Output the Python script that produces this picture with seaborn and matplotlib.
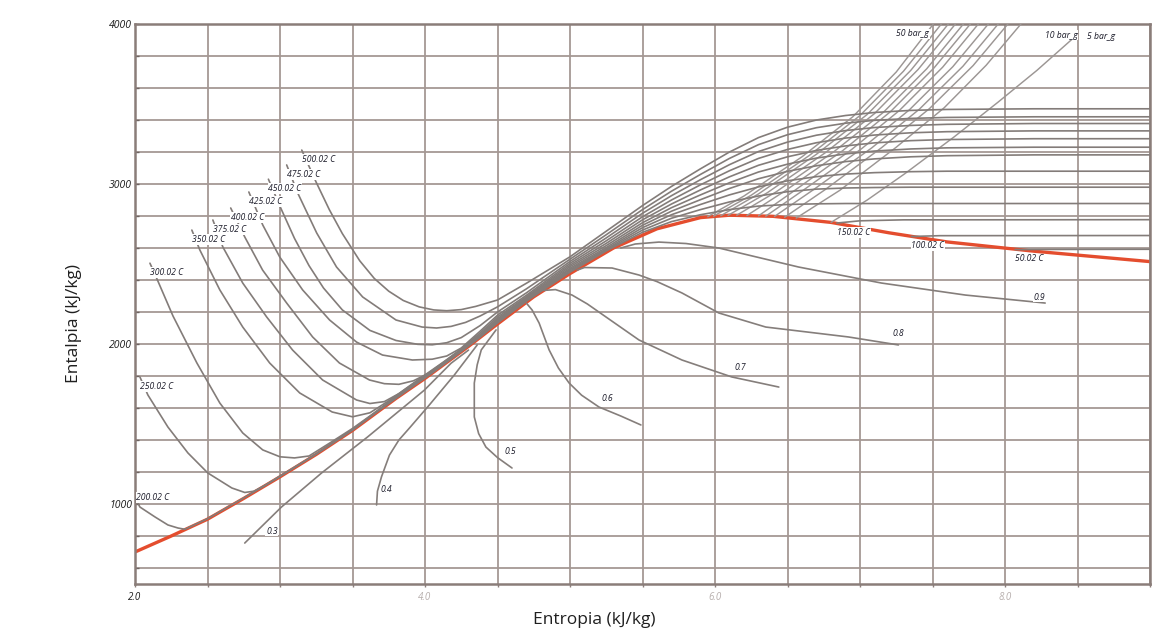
import numpy as np
import pandas as pd
import matplotlib
matplotlib.use("Agg")
import matplotlib.pyplot as plt
import seaborn as sns

# ---------------- data (s in kJ/kg.K, h in kJ/kg) ----------------
sat_s = [2.0, 2.25, 2.5, 2.75, 3.0, 3.25, 3.5, 3.8, 4.0, 4.3, 4.5, 4.75, 5.0, 5.3, 5.6, 5.9, 6.1, 6.4, 6.8, 7.2, 7.6, 8.2, 9.0]
sat_h = [700, 800, 905, 1035, 1170, 1310, 1460, 1660, 1785, 1985, 2125, 2295, 2440, 2600, 2720, 2790, 2805, 2798, 2760, 2695, 2638, 2580, 2515]

iso_labels = ["500.02 C", "475.02 C", "450.02 C", "425.02 C", "400.02 C", "375.02 C",
              "350.02 C", "300.02 C", "250.02 C", "200.02 C", "150.02 C", "100.02 C", "50.02 C"]

# shared entropy stations of the superheated part of the isotherm bundle
bundle_s = [4.5, 4.7, 5.0, 5.25, 5.5, 5.7, 5.9, 6.1, 6.3, 6.5, 6.7, 6.9, 7.1, 7.35, 7.6, 8.2, 9.0]

t500_s = [3.15, 3.25, 3.34, 3.43, 3.55, 3.65, 3.75, 3.85, 3.96, 4.06, 4.15, 4.25, 4.35] + bundle_s
t500_h = [3212, 3010, 2840, 2690, 2520, 2410, 2330, 2272, 2232, 2213, 2208, 2215, 2235,
          2275, 2380, 2545, 2705, 2865, 2985, 3095, 3200, 3290, 3355, 3400, 3428, 3447, 3460, 3466, 3470, 3470]
t475_s = [3.046, 3.122, 3.253, 3.39, 3.57, 3.80, 3.98, 4.08, 4.18, 4.28, 4.38] + bundle_s
t475_h = [3119, 2944, 2694, 2481, 2294, 2150, 2106, 2100, 2110, 2135, 2175,
          2232, 2345, 2530, 2683, 2840, 2955, 3060, 3160, 3246, 3308, 3352, 3380, 3398, 3410, 3416, 3420, 3420]
t450_s = [2.92, 3.0, 3.1, 3.2, 3.3, 3.43, 3.62, 3.8, 3.95, 4.05, 4.15, 4.25, 4.38] + bundle_s
t450_h = [3030, 2860, 2660, 2490, 2350, 2213, 2085, 2022, 1998, 1995, 2008, 2040, 2115,
          2200, 2320, 2516, 2663, 2817, 2927, 3027, 3121, 3203, 3262, 3305, 3334, 3353, 3366, 3373, 3378, 3378]
t425_s = [2.785, 2.881, 2.998, 3.156, 3.342, 3.528, 3.707, 3.913, 4.05, 4.15, 4.25, 4.38] + bundle_s
t425_h = [2950, 2744, 2544, 2338, 2150, 2012, 1931, 1900, 1905, 1925, 1975, 2080,
          2180, 2305, 2504, 2645, 2795, 2900, 2995, 3083, 3160, 3216, 3258, 3287, 3306, 3320, 3327, 3332, 3332]
t400_s = [2.66, 2.757, 2.88, 3.046, 3.225, 3.41, 3.617, 3.72, 3.82, 3.92, 4.02, 4.12, 4.25, 4.38] + bundle_s
t400_h = [2850, 2669, 2462, 2256, 2044, 1881, 1775, 1752, 1748, 1770, 1815, 1880, 1970, 2068,
          2168, 2296, 2493, 2629, 2776, 2875, 2963, 3045, 3117, 3170, 3210, 3238, 3257, 3271, 3278, 3283, 3283]
t375_s = [2.537, 2.606, 2.743, 2.908, 3.087, 3.294, 3.528, 3.62, 3.72, 3.82, 3.95, 4.1, 4.25, 4.38] + bundle_s
t375_h = [2775, 2606, 2381, 2169, 1962, 1775, 1650, 1628, 1640, 1690, 1775, 1870, 1966, 2058,
          2158, 2289, 2483, 2615, 2758, 2852, 2932, 3008, 3075, 3124, 3162, 3188, 3206, 3219, 3226, 3230, 3230]
t350_s = [2.392, 2.447, 2.585, 2.743, 2.929, 3.136, 3.36, 3.5, 3.62, 3.75, 3.9, 4.05, 4.2, 4.38] + bundle_s
t350_h = [2712, 2588, 2338, 2106, 1881, 1694, 1575, 1545, 1570, 1645, 1740, 1832, 1928, 2052,
          2150, 2283, 2473, 2603, 2742, 2830, 2902, 2972, 3033, 3079, 3114, 3140, 3157, 3170, 3177, 3182, 3182]
t300_s = [2.103, 2.138, 2.262, 2.427, 2.585, 2.743, 2.881, 3.0, 3.1, 3.2, 3.35, 3.5, 3.62, 3.75, 3.9, 4.05, 4.2, 4.38] + bundle_s
t300_h = [2505, 2435, 2175, 1881, 1631, 1444, 1338, 1295, 1288, 1300, 1385, 1472, 1550, 1637, 1733, 1826, 1924, 2048,
          2143, 2278, 2465, 2594, 2727, 2808, 2872, 2932, 2982, 3020, 3046, 3062, 3071, 3077, 3080, 3080, 3080]
t250_s = [2.034, 2.089, 2.227, 2.365, 2.502, 2.668, 2.757, 2.82, 2.9, 3.0, 3.25, 3.5, 3.62, 3.75, 3.9, 4.05, 4.2, 4.38] + bundle_s
t250_h = [1794, 1681, 1481, 1319, 1194, 1100, 1072, 1080, 1118, 1175, 1313, 1463, 1545, 1632, 1728, 1822, 1921, 2045,
          2137, 2273, 2457, 2588, 2712, 2786, 2840, 2888, 2925, 2952, 2968, 2975, 2978, 2980, 2980, 2980, 2980]
t200_s = [2.0, 2.034, 2.138, 2.227, 2.296, 2.344, 2.5, 2.75, 3.0, 3.25, 3.5, 3.62, 3.75, 3.9, 4.05, 4.2, 4.38] + bundle_s
t200_h = [1040, 981, 919, 869, 850, 842, 908, 1038, 1172, 1312, 1462, 1543, 1629, 1725, 1820, 1920, 2043,
          2131, 2268, 2449, 2582, 2698, 2765, 2808, 2840, 2862, 2872, 2876, 2878, 2878, 2878, 2878, 2878, 2878]
t150_s = [6.84, 7.0, 7.3, 9.0]
t150_h = [2756, 2770, 2776, 2777]
t100_s = [7.355, 7.55, 9.0]
t100_h = [2672, 2677, 2678]
t50_s = [8.07, 8.3, 9.0]
t50_h = [2590, 2591, 2592]

bar_labels = ["50 bar_g", "", "", "", "", "", "", "", "", "", "10 bar_g", "5 bar_g"]
p50_s = [5.95, 6.2, 6.6, 6.95, 7.25, 7.506]
p50_h = [2796, 2925, 3170, 3420, 3700, 4000]
p45_s = [5.99, 6.25, 6.65, 7.0, 7.30, 7.561]
p45_h = [2799, 2930, 3178, 3428, 3705, 4000]
p40_s = [6.04, 6.30, 6.70, 7.05, 7.35, 7.609]
p40_h = [2802, 2938, 3186, 3435, 3710, 4000]
p35_s = [6.09, 6.36, 6.76, 7.10, 7.40, 7.658]
p35_h = [2804, 2945, 3195, 3440, 3715, 4000]
p30_s = [6.15, 6.42, 6.82, 7.16, 7.46, 7.713]
p30_h = [2805, 2950, 3202, 3447, 3720, 4000]
p25_s = [6.22, 6.48, 6.88, 7.21, 7.51, 7.761]
p25_h = [2803, 2955, 3208, 3452, 3725, 4000]
p20_s = [6.30, 6.55, 6.94, 7.27, 7.57, 7.816]
p20_h = [2801, 2960, 3214, 3458, 3730, 4000]
p17_s = [6.35, 6.61, 7.01, 7.34, 7.64, 7.885]
p17_h = [2799, 2962, 3220, 3463, 3733, 4000]
p15_s = [6.41, 6.68, 7.08, 7.41, 7.71, 7.953]
p15_h = [2797, 2965, 3225, 3468, 3736, 4000]
p12_s = [6.48, 6.76, 7.15, 7.48, 7.78, 8.02]
p12_h = [2792, 2965, 3228, 3472, 3740, 4000]
p10_s = [6.56, 6.86, 7.25, 7.58, 7.87, 8.11]
p10_h = [2787, 2960, 3230, 3476, 3742, 4000]
p5_s = [6.80, 7.05, 7.31, 7.65, 7.95, 8.22, 8.48]
p5_h = [2760, 2900, 3065, 3295, 3510, 3710, 3919]

q_labels = ["0.3", "0.4", "0.5", "0.6", "0.7", "0.8", "0.9"]
q3_s = [2.757, 3.01, 3.287, 3.604, 3.996, 4.18, 4.3]
q3_h = [756, 981, 1194, 1419, 1712, 1880, 1962]
q4_s = [3.666, 3.672, 3.70, 3.755, 3.82, 3.893, 4.03, 4.202, 4.36]
q4_h = [994, 1080, 1170, 1306, 1400, 1475, 1619, 1806, 1994]
q5_s = [4.60, 4.50, 4.42, 4.37, 4.34, 4.34, 4.36, 4.388, 4.49]
q5_h = [1225, 1290, 1356, 1440, 1544, 1756, 1870, 1963, 2088]
q6_s = [5.489, 5.35, 5.20, 5.08, 4.994, 4.92, 4.856, 4.787, 4.739, 4.70]
q6_h = [1494, 1550, 1606, 1680, 1756, 1850, 1963, 2131, 2212, 2255]
q7_s = [6.44, 6.116, 5.772, 5.476, 5.248, 5.12, 5.014, 4.90, 4.82]
q7_h = [1731, 1794, 1900, 2025, 2169, 2250, 2306, 2340, 2335]
q8_s = [7.265, 6.92, 6.35, 6.026, 5.772, 5.6, 5.476, 5.29, 5.10, 5.05]
q8_h = [1994, 2044, 2106, 2194, 2319, 2390, 2431, 2475, 2478, 2462]
q9_s = [8.277, 7.726, 7.148, 6.577, 6.026, 5.8, 5.613, 5.45, 5.35]
q9_h = [2256, 2306, 2381, 2481, 2600, 2628, 2637, 2625, 2600]

# ---------------- assemble ----------------
iso = [(iso_labels[0], t500_s, t500_h), (iso_labels[1], t475_s, t475_h), (iso_labels[2], t450_s, t450_h),
       (iso_labels[3], t425_s, t425_h), (iso_labels[4], t400_s, t400_h), (iso_labels[5], t375_s, t375_h),
       (iso_labels[6], t350_s, t350_h), (iso_labels[7], t300_s, t300_h), (iso_labels[8], t250_s, t250_h),
       (iso_labels[9], t200_s, t200_h), (iso_labels[10], t150_s, t150_h), (iso_labels[11], t100_s, t100_h),
       (iso_labels[12], t50_s, t50_h)]
bars = [(p50_s, p50_h), (p45_s, p45_h), (p40_s, p40_h), (p35_s, p35_h), (p30_s, p30_h), (p25_s, p25_h),
        (p20_s, p20_h), (p17_s, p17_h), (p15_s, p15_h), (p12_s, p12_h), (p10_s, p10_h), (p5_s, p5_h)]
quals = [(q3_s, q3_h), (q4_s, q4_h), (q5_s, q5_h), (q6_s, q6_h), (q7_s, q7_h), (q8_s, q8_h), (q9_s, q9_h)]


def frame(curves):
    rows = []
    for cid, (s, h) in enumerate(curves):
        for i, (a, b) in enumerate(zip(s, h)):
            rows.append({"curve": cid, "order": i, "s": a, "h": b})
    return pd.DataFrame(rows)


df_iso = frame([(s, h) for _, s, h in iso])
df_bar = frame(bars)
df_q = frame(quals)
df_sat = pd.DataFrame({"s": sat_s, "h": sat_h})

sns.set_theme(style="white")
plt.rcParams["font.family"] = ["Open Sans", "DejaVu Sans"]

fig = plt.figure(figsize=(11.56, 6.38), dpi=100)
ax = fig.add_axes([135 / 1156, 54 / 638, 1015 / 1156, 560 / 638])

grid_c = "#a59894"
ax.set_xlim(2.0, 9.0)
ax.set_ylim(500, 4000)
ax.set_xticks(np.arange(2.0, 9.01, 0.5))
ax.set_yticks(np.arange(600, 4001, 200))
ax.grid(True, color=grid_c, lw=1.3)
ax.set_axisbelow(True)

sns.lineplot(data=df_sat, x="s", y="h", sort=False, color="#e44d2e", lw=2.4, ax=ax, zorder=2)
sns.lineplot(data=df_q, x="s", y="h", units="curve", estimator=None, sort=False,
             color="#857e7b", lw=1.2, ax=ax, zorder=3, legend=False)
sns.lineplot(data=df_bar, x="s", y="h", units="curve", estimator=None, sort=False,
             color="#9c9694", lw=1.05, ax=ax, zorder=3, legend=False)
sns.lineplot(data=df_iso, x="s", y="h", units="curve", estimator=None, sort=False,
             color="#837c79", lw=1.2, ax=ax, zorder=3, legend=False)

lab_kw = dict(textcoords="offset points", fontsize=6.2, style="italic", color="#1c1c2a", zorder=6,
              annotation_clip=False,
              bbox=dict(boxstyle="square,pad=0.08", fc="white", ec="none"))
for name, s, h in iso:
    if name == "200.02 C":
        ax.annotate(name, (s[0], h[0]), xytext=(1, 0), ha="left", va="center", **lab_kw)
    else:
        ax.annotate(name, (s[0], h[0]), xytext=(0, -3.5), ha="left", va="top", **lab_kw)

bar_off = {"50 bar_g": (-3, -7, "right"), "10 bar_g": (17, -8, "left"), "5 bar_g": (9, 0.5, "left")}
for name, (s, h) in zip(bar_labels, bars):
    if name:
        dx, dy, ha = bar_off[name]
        ax.annotate(name, (s[-1], h[-1]), xytext=(dx, dy), ha=ha, va="center", **lab_kw)

q_off = [(19.5, 8.6), (7.2, 10.8), (-1.4, 12.2), (-24.5, 18.7), (-27.4, 14.4), (0, 8.6), (-4.3, 4.3)]
for name, (s, h), (dx, dy) in zip(q_labels, quals, q_off):
    ax.annotate(name, (s[0], h[0]), xytext=(dx, dy), ha="center", va="center", **lab_kw)

# ticks & labels
ax.set_yticklabels([f"{int(v)}" if v % 1000 == 0 else "" for v in ax.get_yticks()])
ax.set_xticklabels(["2.0", "", "", "", "4.0", "", "", "", "6.0", "", "", "", "8.0", "", ""])
ax.tick_params(axis="y", direction="in", length=3, width=1, color="#6e6461", labelsize=7.5,
               pad=2, left=True)
ax.tick_params(axis="x", direction="out", length=2.5, width=1, color="#8c7f7b", labelsize=7,
               pad=3, bottom=True)
for t in ax.get_yticklabels():
    t.set_fontstyle("italic")
    t.set_color("#1c1c1c")
for t in ax.get_xticklabels():
    t.set_fontstyle("italic")
    t.set_color("#1c1c1c" if t.get_text() == "2.0" else "#b7afad")

for sp in ax.spines.values():
    sp.set_color("#8a7d79")
    sp.set_linewidth(1.8)

ax.set_xlabel("Entropia (kJ/kg)", fontsize=12.5, color="#1f1f1f")
ax.set_ylabel("Entalpia (kJ/kg)", fontsize=12.5, color="#1f1f1f")
ax.xaxis.set_label_coords(0.452, -0.05)
ax.yaxis.set_label_coords(-0.052, 0.466)

fig.savefig("out.png", dpi=100)
